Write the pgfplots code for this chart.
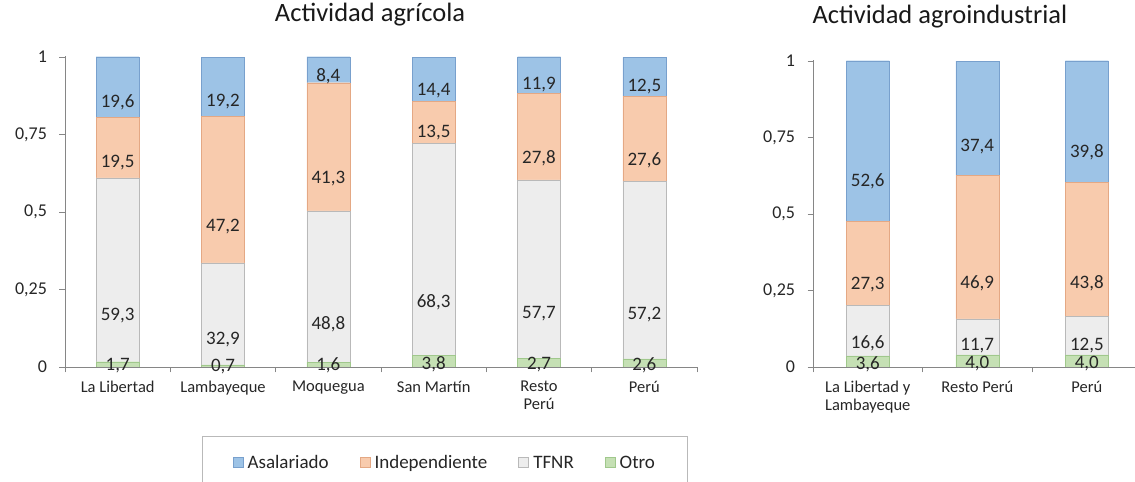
\documentclass[border=0pt]{standalone}
\usepackage{fontspec}
\setmainfont{Carlito}
\usepackage{pgfplots}
\usepackage{pgfplotstable}
\pgfplotsset{compat=1.18}
\definecolor{asalF}{RGB}{157,195,230}
\definecolor{asalD}{RGB}{120,160,205}
\definecolor{indF}{RGB}{248,203,173}
\definecolor{indD}{RGB}{228,168,132}
\definecolor{tfF}{RGB}{237,237,237}
\definecolor{tfD}{RGB}{185,185,185}
\definecolor{otF}{RGB}{197,224,180}
\definecolor{otD}{RGB}{160,200,140}
\definecolor{axgray}{RGB}{134,134,134}
\definecolor{txt}{RGB}{38,38,38}
\pgfplotsset{
  calculate offset/.code={%
    \pgfkeys{/pgf/fpu=true,/pgf/fpu/output format=fixed}%
    \pgfmathsetmacro\halfoffset{0.25*\pgfplotspointmeta*\pgfplotsunitylength}%
    \pgfkeys{/pgf/fpu=false}%
  },
}
\pgfplotstableread{
x otro tfnr ind asal
0 1.7 59.3 19.5 19.6
1 0.7 32.9 47.2 19.2
2 1.6 48.8 41.3 8.4
3 3.8 68.3 13.5 14.4
4 2.7 57.7 27.8 11.9
5 2.6 57.2 27.6 12.5
}\leftdata
\pgfplotstableread{
x otro tfnr ind asal
0 3.6 16.6 27.3 52.6
1 4.0 11.7 46.9 37.4
2 4.0 12.5 43.8 39.8
}\rightdata
\pgfplotsset{
  mystyle/.style={
    scale only axis,
    ybar stacked, bar width=43bp,
    ymin=0, ymax=100.2,
    ytick={0,25,50,75,100},
    yticklabels={0,{0,25},{0,5},{0,75},1},
    axis x line*=bottom, axis y line*=left,
    axis line style={-, draw=axgray},
    tick style={draw=axgray, line width=0.6pt},
    tick align=outside, major tick length=5.5bp,
    /pgf/number format/assume math mode=true,
    yticklabel style={font=\fontsize{18bp}{20bp}\selectfont, text=txt, xshift=-9bp},
    xticklabel style={font=\fontsize{16.5bp}{18bp}\selectfont, text=txt, align=center, anchor=north, yshift=-5bp},
    point meta=explicit,
    nodes near coords={\pgfmathprintnumber[fixed,fixed zerofill,precision=1,use comma]{\pgfplotspointmeta}},
    nodes near coords align={center},
    every node near coord/.append style={/pgfplots/calculate offset, yshift=-\halfoffset pt, anchor=center, font=\fontsize{19bp}{20bp}\selectfont, text=txt},
    legend image code/.code={\draw[##1] (0bp,-5bp) rectangle (10bp,5bp);},
    title style={font=\fontsize{26.5bp}{28bp}\selectfont, text=black!90, anchor=base},
  },
}
\begin{document}
\begin{tikzpicture}
\useasboundingbox (0,0) rectangle (1135bp,482bp);
\begin{axis}[mystyle,
  at={(65bp,115bp)}, anchor=south west,
  width=632bp, height=310.6bp,
  xmin=-0.5, xmax=5.5,
  xtick={-0.5,0.5,1.5,2.5,3.5,4.5,5.5},
  xticklabels={La Libertad,Lambayeque,Moquegua,San Martín,{Resto\\Perú},Perú,{}},
  xticklabel style={xshift=52.7bp},
  title={Actividad agrícola},
  title style={at={(0.4826,1.092)}},
  reverse legend,
  legend columns=4,
  legend style={at={(0.601,-0.2226)}, anchor=north, draw=tfD,
    font=\fontsize{19bp}{20bp}\selectfont, text=txt,
    inner xsep=30bp, inner ysep=17bp,
    /tikz/every odd column/.append style={column sep=2.5bp},
    /tikz/every even column/.append style={column sep=29bp}},
]
\addplot[fill=otF, draw=otD] table[x=x, y=otro, meta=otro] {\leftdata};
\addlegendentry{Otro}
\addplot[fill=tfF, draw=tfD] table[x=x, y=tfnr, meta=tfnr] {\leftdata};
\addlegendentry{TFNR}
\addplot[fill=indF, draw=indD] table[x=x, y=ind, meta=ind] {\leftdata};
\addlegendentry{Independiente}
\addplot[fill=asalF, draw=asalD] table[x=x, y=asal, meta=asal] {\leftdata};
\addlegendentry{Asalariado}
\end{axis}
\begin{axis}[mystyle,
  at={(813bp,115bp)}, anchor=south west,
  width=322bp, height=306.6bp,
  xmin=-0.5, xmax=2.44,
  xtick={-0.5,0.5,1.5},
  xticklabels={{La Libertad y\\Lambayeque},Resto Perú,Perú},
  xticklabel style={xshift=54.75bp},
  title={Actividad agroindustrial},
  title style={at={(0.394,1.1)}},
]
\addplot[fill=otF, draw=otD] table[x=x, y=otro, meta=otro] {\rightdata};
\addplot[fill=tfF, draw=tfD] table[x=x, y=tfnr, meta=tfnr] {\rightdata};
\addplot[fill=indF, draw=indD] table[x=x, y=ind, meta=ind] {\rightdata};
\addplot[fill=asalF, draw=asalD] table[x=x, y=asal, meta=asal] {\rightdata};
\end{axis}
\end{tikzpicture}
\end{document}
